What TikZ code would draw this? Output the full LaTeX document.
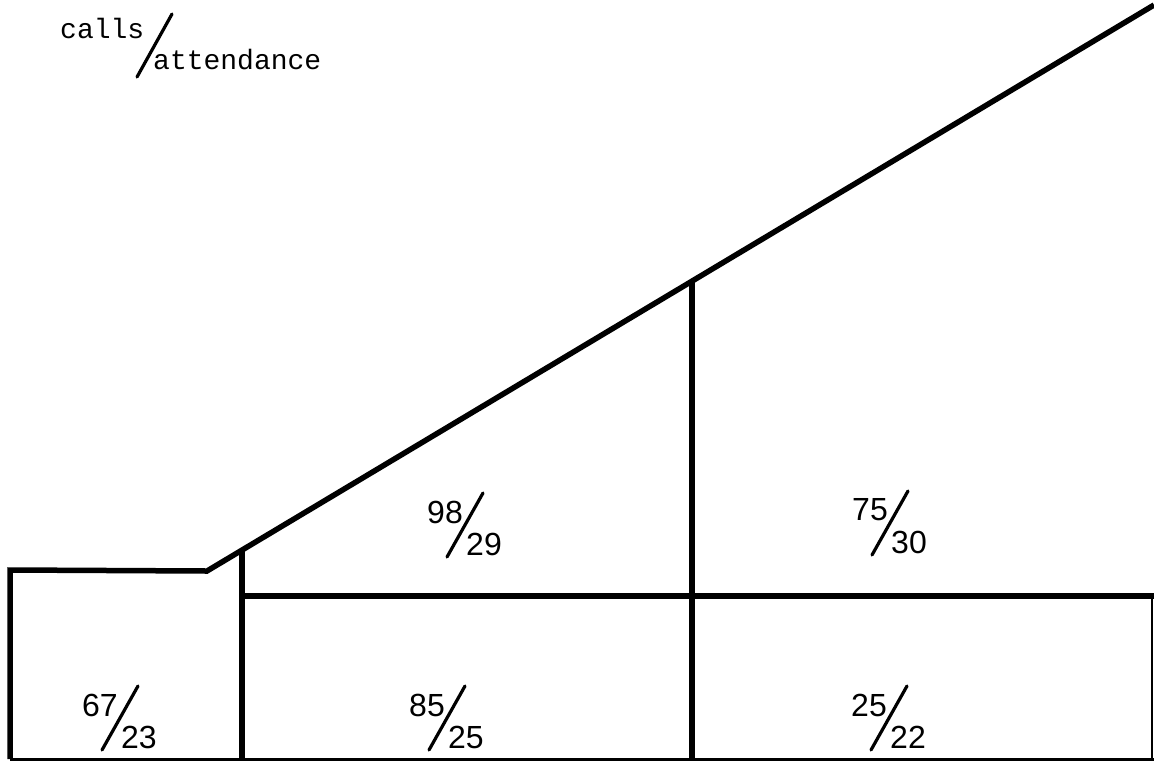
\documentclass[tikz,border=0pt]{standalone}
\usepackage{fontspec}
\setmainfont{Liberation Sans}
\setmonofont{Liberation Mono}
\newcommand\cellfrac[4]{%
\coordinate (#1) at #2;
\node[digits] (#1-n) at ([shift={(-20,-13)}]#1) {#3};
\node[digits] (#1-d) at ([shift={(19,19)}]#1) {#4};
\draw[slash] ([shift={(18,-32)}]#1) -- ([shift={(-18,32)}]#1);}
\begin{document}
\begin{tikzpicture}[x=1pt,y=-1pt,line join=miter,
  wall/.style={line width=5.5pt},
  base/.style={line width=3pt},
  edge/.style={line width=1.8pt},
  digits/.style={font=\fontsize{32}{32}\selectfont,inner sep=0pt},
  slash/.style={line width=3.2pt,line cap=round},
  legend/.style={font=\fontsize{28}{28}\selectfont\ttfamily,inner sep=0pt,anchor=base west}]
\useasboundingbox (0,0) rectangle (1154,764);
% outline
\coordinate (tl) at (10,570);
\coordinate (kink) at (207,571);
\coordinate (top) at (1154,5);
\coordinate (bl) at (10,759);
\coordinate (br) at (1152,759);
\coordinate (a) at (242,551);
\coordinate (b) at (692,282);
\coordinate (mid) at (242,596);
\coordinate (mr) at (1154,596);
\draw[wall] (bl) -- (tl) -- (kink) -- (top);
\draw[base] (bl) -- (1154,759);
\draw[edge] (br) -- (br |- mr);
\draw[wall] (a) -- (a |- bl);
\draw[wall] (b) -- (b |- bl);
\draw[wall] (mid) -- (mr);
% legend
\node[legend] (calls) at (60,38) {calls};
\node[legend] (att) at (153,69) {attendance};
\draw[slash] (172,14) -- (137,77);
% cells
\cellfrac{c1}{(120,718)}{67}{23}
\cellfrac{c2}{(447,718)}{85}{25}
\cellfrac{c3}{(889,718)}{25}{22}
\cellfrac{c4}{(465,525)}{98}{29}
\cellfrac{c5}{(890,523)}{75}{30}
\end{tikzpicture}
\end{document}
